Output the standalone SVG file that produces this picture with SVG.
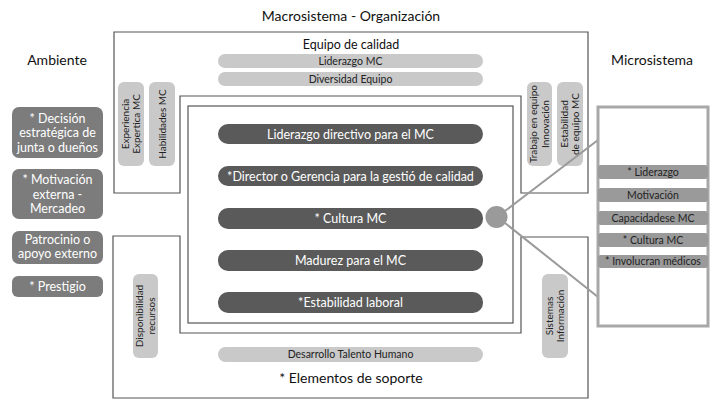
<svg xmlns="http://www.w3.org/2000/svg" width="726" height="410" viewBox="0 0 726 410">
<style>
text{font-family:Lato,"Open Sans","Liberation Sans",sans-serif;text-anchor:middle}
.frame{fill:none;stroke:#555;stroke-width:1.2}
.dark{fill:#5a5a5a}
.light{fill:#c9c9c9}
.env{fill:#7c7c7c}
.micro{fill:#9a9a9a}
.tw{fill:#fff;font-size:12.5px}
.tenv{fill:#fff;font-size:12.5px}
.tl{fill:#222;font-size:10.5px}
.tv{fill:#222;font-size:10px}
.tm{fill:#222;font-size:10.5px}
.head{fill:#111;font-size:14px}
.conn{stroke:#9a9a9a;stroke-width:2;fill:none}
</style>
<rect width="726" height="410" fill="#fff"/>
<text class="head" x="351" y="21">Macrosistema - Organización</text>
<text class="head" x="57" y="65">Ambiente</text>
<text class="head" x="652" y="65">Microsistema</text>

<g id="equipo-calidad">
<path class="frame" d="M114,32 H588 V193 H521 V96 H180 V193 H114 Z"/>
<text fill="#111" font-size="12.5" x="351" y="49">Equipo de calidad</text>
<rect class="light" x="218" y="54" width="265" height="14" rx="7"/>
<text class="tl" x="350.5" y="64.5">Liderazgo MC</text>
<rect class="light" x="218" y="72" width="265" height="14" rx="7"/>
<text class="tl" x="350.5" y="82.5">Diversidad Equipo</text>
<rect class="light" x="118" y="82" width="26" height="84" rx="6"/>
<text class="tv" transform="translate(131,124) rotate(-90)"><tspan x="0" y="-2.5">Experiencia</tspan><tspan x="0" y="9">Expertica MC</tspan></text>
<rect class="light" x="149" y="82" width="26" height="84" rx="6"/>
<text class="tv" transform="translate(162,124) rotate(-90)" y="3.5">Habilidades MC</text>
<rect class="light" x="527" y="82" width="25" height="84" rx="6"/>
<text class="tv" transform="translate(539.5,124) rotate(-90)"><tspan x="0" y="-2.5">Trabajo en equipo</tspan><tspan x="0" y="9">Innovación</tspan></text>
<rect class="light" x="557" y="82" width="26" height="84" rx="6"/>
<text class="tv" transform="translate(570,124) rotate(-90)"><tspan x="0" y="-2.5">Estabilidad</tspan><tspan x="0" y="9">de equipo MC</tspan></text>
</g>

<g id="soporte">
<path class="frame" d="M113,236 H180 V333 H521 V237 H588 V398 H113 Z"/>
<rect class="light" x="133" y="274" width="25" height="84" rx="6"/>
<text class="tv" transform="translate(145.5,316) rotate(-90)"><tspan x="0" y="-2.5">Disponibilidad</tspan><tspan x="0" y="9">recursos</tspan></text>
<rect class="light" x="542" y="274" width="26" height="84" rx="6"/>
<text class="tv" transform="translate(555,316) rotate(-90)"><tspan x="0" y="-2.5">Sistemas</tspan><tspan x="0" y="9">Información</tspan></text>
<rect class="light" x="218" y="347" width="265" height="15" rx="7.5"/>
<text class="tl" x="350.5" y="358">Desarrollo Talento Humano</text>
<text class="head" x="351" y="383">* Elementos de soporte</text>
</g>

<g id="nucleo">
<rect class="frame" x="188" y="106" width="325" height="217" fill="none"/>
<rect class="dark" x="218" y="124" width="265" height="20" rx="10"/>
<text class="tw" x="350.5" y="138.5">Liderazgo directivo para el MC</text>
<rect class="dark" x="218" y="166" width="265" height="20" rx="10"/>
<text class="tw" x="350.5" y="180.5">*Director o Gerencia para la gestió de calidad</text>
<rect class="dark" x="218" y="208" width="265" height="21" rx="10"/>
<text class="tw" x="350.5" y="223">* Cultura MC</text>
<rect class="dark" x="218" y="250" width="265" height="21" rx="10"/>
<text class="tw" x="350.5" y="265">Madurez para el MC</text>
<rect class="dark" x="218" y="292" width="265" height="21" rx="10"/>
<text class="tw" x="350.5" y="307">*Estabilidad laboral</text>
</g>

<g id="ambiente">
<rect class="env" x="12" y="107" width="91" height="51" rx="7"/>
<text class="tenv"><tspan x="57.5" y="122.5">* Decisión</tspan><tspan x="57.5" y="137">estratégica de</tspan><tspan x="57.5" y="151.5">junta o dueños</tspan></text>
<rect class="env" x="12" y="169" width="91" height="50" rx="7"/>
<text class="tenv"><tspan x="57.5" y="184">* Motivación</tspan><tspan x="57.5" y="198.5">externa -</tspan><tspan x="57.5" y="213">Mercadeo</tspan></text>
<rect class="env" x="12" y="231" width="91" height="33" rx="7"/>
<text class="tenv"><tspan x="57.5" y="243.5">Patrocinio o</tspan><tspan x="57.5" y="258">apoyo externo</tspan></text>
<rect class="env" x="12" y="276" width="91" height="21" rx="6"/>
<text class="tenv" x="57.5" y="291">* Prestigio</text>
</g>

<g id="connectors">
<line class="conn" x1="505" y1="211" x2="598" y2="140"/>
<line class="conn" x1="505" y1="223" x2="598" y2="297"/>
</g>

<g id="circulo">
<circle cx="496.5" cy="217" r="11" fill="#9a9a9a"/>
</g>

<g id="microsistema">
<rect x="598" y="107" width="110" height="219" fill="#fff" stroke="#a8a8a8" stroke-width="3"/>
<rect class="micro" x="598" y="165" width="110" height="14" rx="3"/>
<text class="tm" x="653" y="175.5">* Liderazgo</text>
<rect class="micro" x="598" y="188" width="110" height="14" rx="3"/>
<text class="tm" x="653" y="198.5">Motivación</text>
<rect class="micro" x="598" y="211" width="110" height="14" rx="3"/>
<text class="tm" x="653" y="221.5">Capacidadese MC</text>
<rect class="micro" x="598" y="233" width="110" height="14" rx="3"/>
<text class="tm" x="653" y="243.5">* Cultura MC</text>
<rect class="micro" x="598" y="255" width="110" height="13" rx="3"/>
<text class="tm" x="653" y="265">* Involucran médicos</text>
</g>
</svg>
